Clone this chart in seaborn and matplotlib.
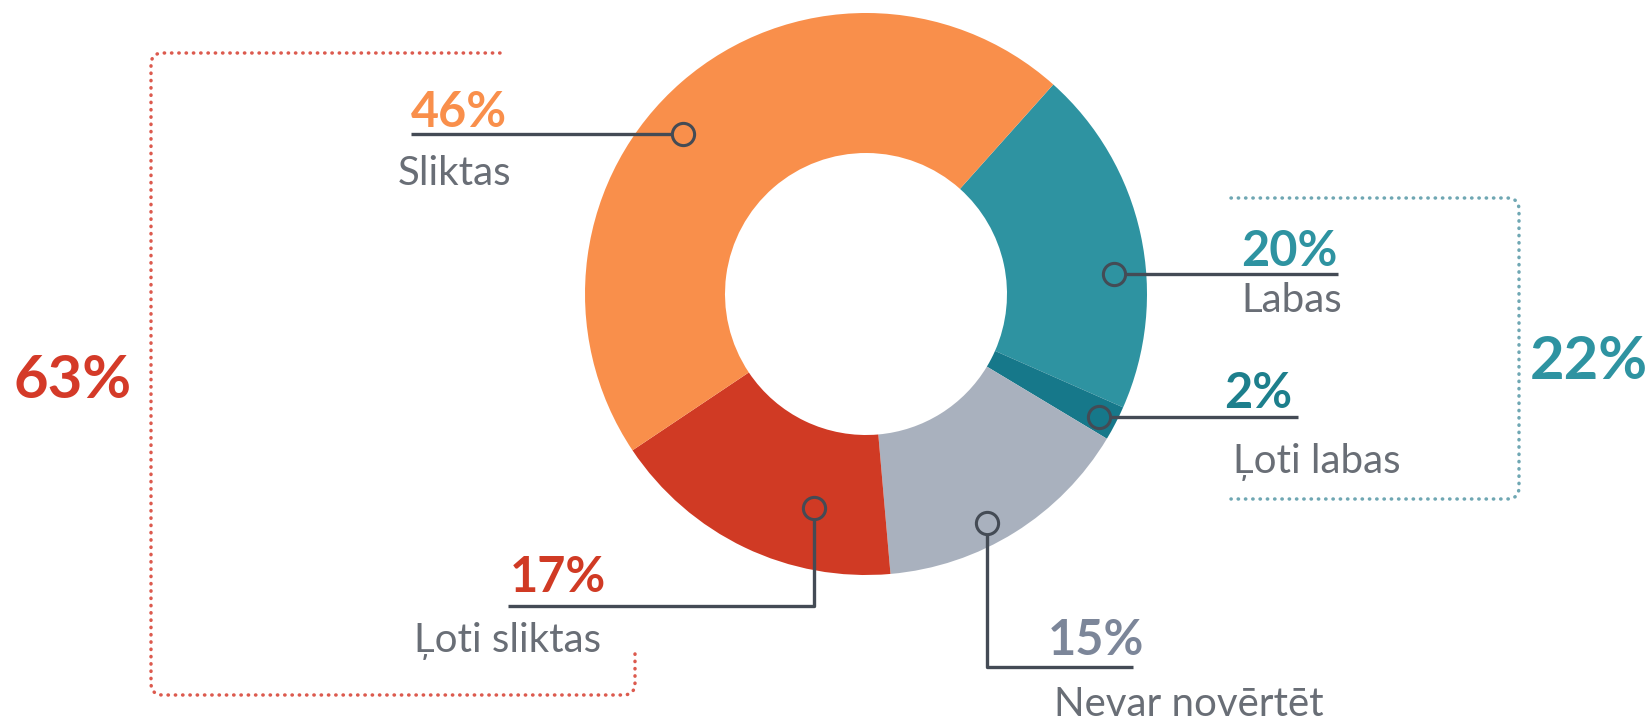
import numpy as np
import matplotlib.pyplot as plt
import seaborn as sns

# donut data, clockwise from the orange/teal boundary
labels = ['Labas', 'Ļoti labas', 'Nevar novērtēt', 'Ļoti sliktas', 'Sliktas']
shares = [20, 2, 15, 17, 46]
pct_text = ['20%', '2%', '15%', '17%', '46%']
wedge_colors = ['#2E93A1', '#16788A', '#A9B1BE', '#D03A24', '#F98F4B']
pct_colors = ['#2E93A1', '#1D7F8C', '#7C8699', '#D03A24', '#F98F4B']

# grouped totals
group_text = ['63%', '22%']
group_colors = ['#D43A28', '#2E93A1']
bracket_colors = ['#DC5A4E', '#6FA7B3']

sns.set_theme(style='white')
plt.rcParams['font.family'] = ['Lato', 'DejaVu Sans']

W, H = 1652, 721
fig = plt.figure(figsize=(W / 100, H / 100), dpi=100)
ax = fig.add_axes([0, 0, 1, 1])


def Y(y):
    # image row -> data y
    return H - y


cx, cy, R = 866, Y(294), 281
ax.pie(shares, colors=wedge_colors, startangle=48.2, counterclock=False,
       radius=R, center=(cx, cy),
       wedgeprops=dict(width=140, linewidth=0, edgecolor='none'))

# leader lines: marker point, then path to the text
line_col = '#444B55'
leaders = {
    'Sliktas': [(683, 134), (411, 134)],
    'Labas': [(1114, 274), (1338, 274)],
    'Ļoti labas': [(1099, 417), (1298, 417)],
    'Ļoti sliktas': [(814, 508), (814, 606), (508, 606)],
    'Nevar novērtēt': [(987, 523), (987, 667), (1133, 667)],
}
# (pct x, pct baseline, label x, label baseline) in image px
text_pos = {
    'Sliktas': (411, 127, 398, 185),
    'Labas': (1241, 266, 1241, 312),
    'Ļoti labas': (1224, 408, 1233, 473),
    'Ļoti sliktas': (510, 592, 414, 652),
    'Nevar novērtēt': (1048, 655, 1054, 716),
}

for lab, pct, wc, pc in zip(labels, pct_text, wedge_colors, pct_colors):
    pts = np.array(leaders[lab], float)
    ax.plot(pts[:, 0], Y(pts[:, 1]), color=line_col, lw=2.4,
            solid_capstyle='butt', zorder=3)
    ax.plot(pts[0, 0], Y(pts[0, 1]), 'o', ms=16, mfc=wc, mec=line_col,
            mew=2.2, zorder=4)
    px, py, lx, ly = text_pos[lab]
    ax.text(px, Y(py), pct, color=pc, fontsize=35, fontweight='bold',
            ha='left', va='baseline')
    ax.text(lx, Y(ly), lab, color='#696E76', fontsize=29, fontweight='normal',
            ha='left', va='baseline')


def rounded(pts, r=12, n=12):
    pts = np.asarray(pts, float)
    out = [pts[0]]
    for i in range(1, len(pts) - 1):
        p0, p1, p2 = pts[i - 1], pts[i], pts[i + 1]
        a = p1 + (p0 - p1) / np.linalg.norm(p0 - p1) * r
        b = p1 + (p2 - p1) / np.linalg.norm(p2 - p1) * r
        t = np.linspace(0, 1, n)[:, None]
        out.extend((1 - t) ** 2 * a + 2 * (1 - t) * t * p1 + t ** 2 * b)
    out.append(pts[-1])
    return np.array(out)


brackets = [
    [(500, 53), (151, 53), (151, 695), (635, 695), (635, 648)],
    [(1231, 198), (1519, 198), (1519, 499), (1231, 499)],
]
for br, bc in zip(brackets, bracket_colors):
    p = rounded(br)
    ax.plot(p[:, 0], Y(p[:, 1]), color=bc, lw=2.5, ls=(0, (0.1, 2.0)),
            dash_capstyle='round', zorder=2)

group_pos = [(13, 398), (1530, 379)]
for txt, gc, (gx, gy) in zip(group_text, group_colors, group_pos):
    ax.text(gx, Y(gy), txt, color=gc, fontsize=43, fontweight='bold',
            ha='left', va='baseline')

ax.set_xlim(0, W)
ax.set_ylim(0, H)
ax.set_aspect('auto')
ax.axis('off')
fig.savefig('out.png', dpi=100, facecolor='white')
